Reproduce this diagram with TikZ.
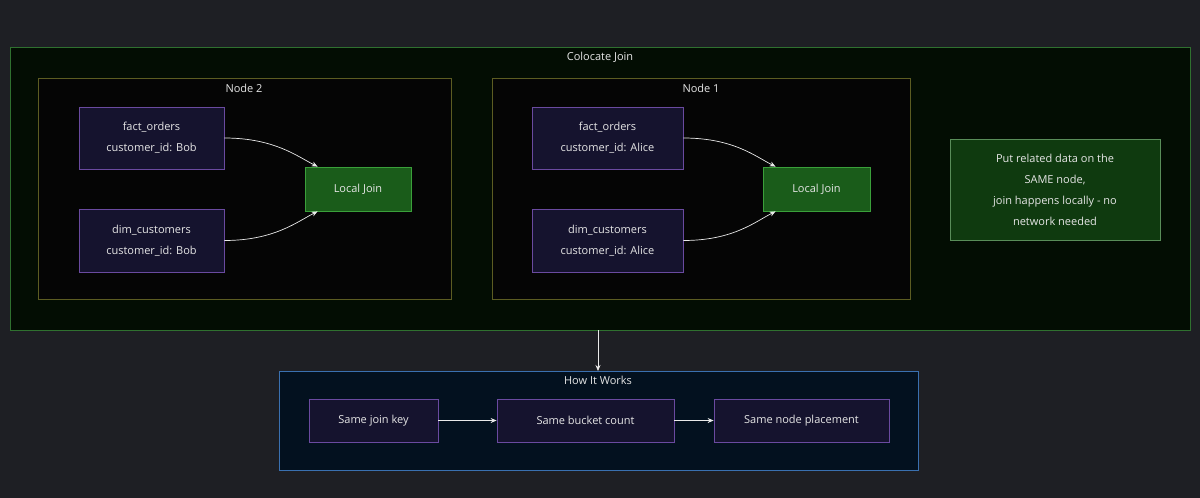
\documentclass[tikz,border=0pt]{standalone}
\usepackage{fontspec}
\setmainfont{Open Sans}
\usetikzlibrary{arrows.meta}
\definecolor{bgcol}{HTML}{1E1F24}
\definecolor{outerfill}{HTML}{030D03}
\definecolor{outerline}{HTML}{2F702F}
\definecolor{nodefill}{HTML}{050505}
\definecolor{nodeline}{HTML}{5C5C22}
\definecolor{tabfill}{HTML}{15132E}
\definecolor{tabline}{HTML}{6A4AA0}
\definecolor{joinfill}{HTML}{1A5C1A}
\definecolor{joinline}{HTML}{3AA03A}
\definecolor{notefill}{HTML}{0F3A0F}
\definecolor{howfill}{HTML}{03111F}
\definecolor{howline}{HTML}{3A70B0}
\definecolor{txt}{HTML}{E6E6E6}
\begin{document}
\begin{tikzpicture}[x=1pt, y=-1pt, font=\fontsize{11}{21}\selectfont, text=txt]
  \tikzset{
    panel/.style={draw=#1, line width=0.8pt},
    table/.style={rectangle, draw=tabline, fill=tabfill, line width=0.8pt, align=center, inner sep=0pt},
    localjoin/.style={rectangle, draw=joinline, fill=joinfill, line width=0.8pt, inner sep=0pt},
    rule/.style={rectangle, draw=tabline, fill=tabfill, line width=0.8pt, inner sep=0pt},
    link/.style={draw=txt!85, line width=0.7pt, -{Stealth[length=6pt, width=5pt]}}
  }
  % page
  \fill[bgcol] (0,0) rectangle (1200,498);
  \useasboundingbox (0,0) rectangle (1200,498);

  % colocate join
  \filldraw[panel=outerline, fill=outerfill] (10,47) rectangle (1190,330);
  \node (title) at (600,57) {Colocate Join};
  \coordinate (outerbot) at (598,330);

  % node 2
  \filldraw[panel=nodeline, fill=nodefill] (38,78) rectangle (451,299);
  \node at (244,88) {Node 2};
  \node[table, minimum width=145pt, minimum height=62pt] (fact2) at (151.5,138) {fact\_orders\\customer\_id: Bob};
  \node[table, minimum width=145pt, minimum height=63pt] (dim2) at (151.5,240.5) {dim\_customers\\customer\_id: Bob};
  \node[localjoin, minimum width=106pt, minimum height=44pt] (join2) at (358,189) {Local Join};
  \draw[link] (fact2.east) .. controls +(50,0) and +(-20,-10) .. ([xshift=13pt]join2.north west);
  \draw[link] (dim2.east) .. controls +(50,0) and +(-20,10) .. ([xshift=13pt]join2.south west);

  % node 1
  \filldraw[panel=nodeline, fill=nodefill] (492,78) rectangle (910,299);
  \node at (701,88) {Node 1};
  \node[table, minimum width=151pt, minimum height=62pt] (fact1) at (607.5,138) {fact\_orders\\customer\_id: Alice};
  \node[table, minimum width=151pt, minimum height=63pt] (dim1) at (607.5,240.5) {dim\_customers\\customer\_id: Alice};
  \node[localjoin, minimum width=107pt, minimum height=44pt] (join1) at (816.5,189) {Local Join};
  \draw[link] (fact1.east) .. controls +(50,0) and +(-20,-10) .. ([xshift=13pt]join1.north west);
  \draw[link] (dim1.east) .. controls +(50,0) and +(-20,10) .. ([xshift=13pt]join1.south west);

  % note
  \node[rectangle, draw=outerline!80!white, fill=notefill, line width=0.8pt, minimum width=210pt, minimum height=101pt, align=center, inner sep=0pt] (note) at (1055,189.5)
    {Put related data on the\\SAME node,\\join happens locally - no\\network needed};

  % how it works
  \filldraw[panel=howline, fill=howfill] (279,371) rectangle (918,470);
  \coordinate (howtop) at (598,371);
  \node at (598,380) {How It Works};
  \node[rule, minimum width=129pt, minimum height=43pt] (key) at (373.5,420.5) {Same join key};
  \node[rule, minimum width=177pt, minimum height=43pt] (bucket) at (585.5,420.5) {Same bucket count};
  \node[rule, minimum width=175pt, minimum height=43pt] (place) at (801.5,420.5) {Same node placement};
  \draw[link] (key) -- (bucket);
  \draw[link] (bucket) -- (place);

  \draw[link] (outerbot) -- (howtop);
\end{tikzpicture}
\end{document}
